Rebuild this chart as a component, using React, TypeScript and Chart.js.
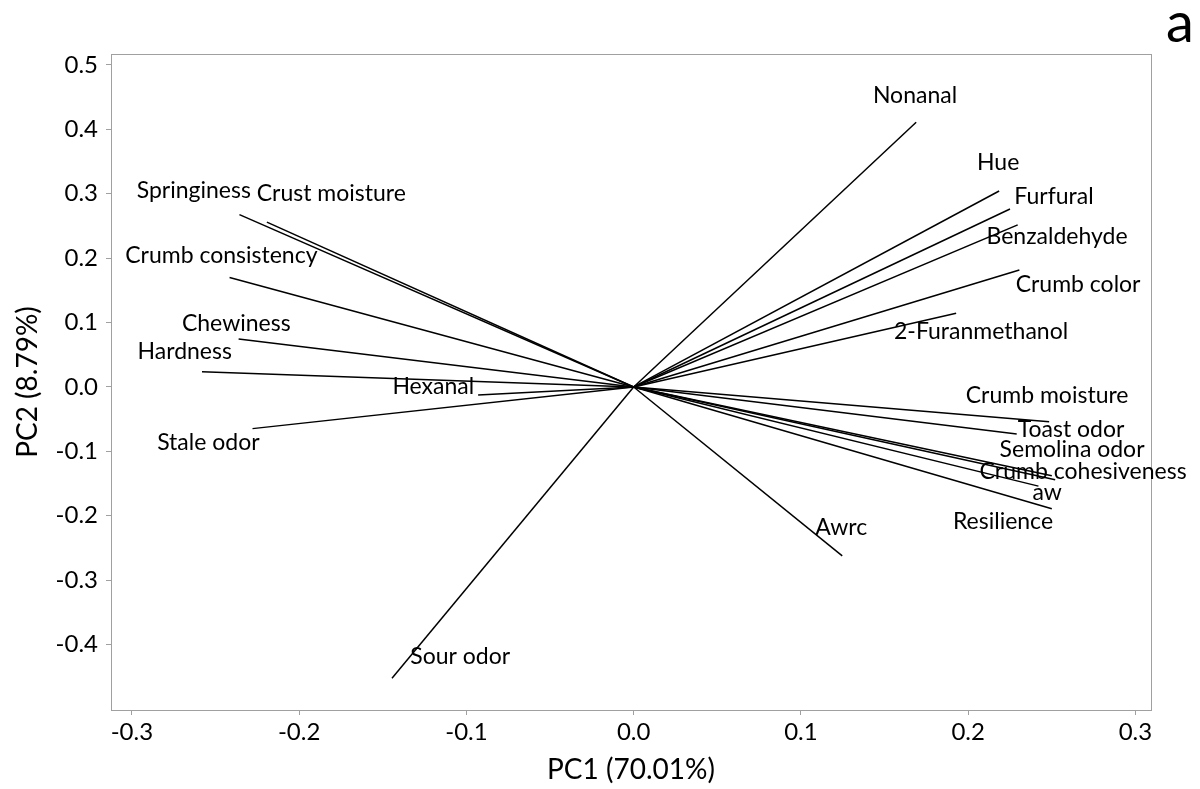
import React, { useEffect, useRef } from "react";
import { Chart, registerables } from "chart.js";

Chart.register(...registerables);

const variableNames = [
  "Springiness", "Crust moisture", "Crumb consistency", "Chewiness", "Hardness",
  "Hexanal", "Stale odor", "Sour odor", "Nonanal", "Hue", "Furfural",
  "Benzaldehyde", "Crumb color", "2-Furanmethanol", "Crumb moisture",
  "Toast odor", "Semolina odor", "Crumb cohesiveness", "aw", "Resilience", "Awrc",
];

const pc1Loadings = [
  -0.2357, -0.2193, -0.2416, -0.2362, -0.2581,
  -0.0930, -0.2279, -0.1445, 0.1689, 0.2185, 0.2250,
  0.2296, 0.2306, 0.1928, 0.2484,
  0.2290, 0.2500, 0.2520, 0.2420, 0.2500, 0.1247,
];

const pc2Loadings = [
  0.2675, 0.2560, 0.1700, 0.0745, 0.0238,
  -0.0124, -0.0647, -0.4523, 0.4110, 0.3043, 0.2764,
  0.2516, 0.1817, 0.1144, -0.0539,
  -0.0730, -0.1380, -0.1440, -0.1540, -0.1890, -0.2624,
];

// label anchor positions (data units)
const labelPc1 = [
  -0.2630, -0.1808, -0.2465, -0.2376, -0.2684,
  -0.1198, -0.2543, -0.1037, 0.1682, 0.2179, 0.2513,
  0.2531, 0.2657, 0.2077, 0.2472,
  0.2615, 0.2621, 0.2687, 0.2472, 0.2208, 0.1241,
];
const labelPc2 = [
  0.3050, 0.2997, 0.2043, 0.0978, 0.0543,
  0.0000, -0.0870, -0.4193, 0.4519, 0.3478, 0.2950,
  0.2329, 0.1584, 0.0854, -0.0140,
  -0.0668, -0.0979, -0.1320, -0.1646, -0.2096, -0.2189,
];

const xTickValues = [-0.3, -0.2, -0.1, 0.0, 0.1, 0.2, 0.3];
const yTickValues = [-0.4, -0.3, -0.2, -0.1, 0.0, 0.1, 0.2, 0.3, 0.4, 0.5];
const xTitle = "PC1 (70.01%)";
const yTitle = "PC2 (8.79%)";
const panelLetter = "a";

const FONT = "Lato, 'Open Sans', sans-serif";

const labelPlugin = {
  id: "biplotLabels",
  afterDatasetsDraw(chart: any) {
    const { ctx, chartArea, scales } = chart;
    const xs = scales.x;
    const ys = scales.y;
    ctx.save();
    ctx.strokeStyle = "#a0a0a0";
    ctx.lineWidth = 1;
    ctx.strokeRect(
      Math.round(chartArea.left) + 0.5,
      Math.round(chartArea.top) + 0.5,
      Math.round(chartArea.right - chartArea.left),
      Math.round(chartArea.bottom - chartArea.top)
    );
    ctx.fillStyle = "#000";
    ctx.font = `23px ${FONT}`;
    ctx.textAlign = "center";
    ctx.textBaseline = "middle";
    variableNames.forEach((n, i) => {
      ctx.fillText(n, xs.getPixelForValue(labelPc1[i]), ys.getPixelForValue(labelPc2[i]));
    });
    ctx.font = `56px ${FONT}`;
    ctx.fillText(panelLetter, 1180, 24);
    ctx.restore();
  },
};

export default function App() {
  const canvasRef = useRef<HTMLCanvasElement | null>(null);

  useEffect(() => {
    if (!canvasRef.current) return;
    const datasets = variableNames.map((n, i) => ({
      label: n,
      data: [
        { x: 0, y: 0 },
        { x: pc1Loadings[i], y: pc2Loadings[i] },
      ],
      showLine: true,
      borderColor: "#000",
      borderWidth: 1.5,
      pointRadius: 0,
      fill: false,
    }));
    const chart = new Chart(canvasRef.current, {
      type: "scatter",
      data: { datasets },
      plugins: [labelPlugin],
      options: {
        animation: false,
        responsive: false,
        events: [],
        layout: { padding: { top: 54, right: 49, bottom: 0, left: 0 } },
        plugins: { legend: { display: false }, tooltip: { enabled: false } },
        scales: {
          x: {
            type: "linear",
            min: -0.3125,
            max: 0.3093,
            afterFit: (s: any) => { s.height = 79; },
            afterBuildTicks: (s: any) => { s.ticks = xTickValues.map((v) => ({ value: v })); },
            ticks: {
              color: "#000",
              font: { family: FONT, size: 24 },
              padding: 3,
              maxRotation: 0,
              callback: (v: any) => Number(v).toFixed(1),
            },
            grid: { drawOnChartArea: false, drawTicks: true, tickLength: 5, color: "#a0a0a0" },
            border: { display: false },
            title: {
              display: true,
              text: xTitle,
              color: "#000",
              font: { family: FONT, size: 28 },
              padding: { top: 0, bottom: 2 },
            },
          },
          y: {
            type: "linear",
            min: -0.5016,
            max: 0.517,
            afterFit: (s: any) => { s.width = 111; },
            afterBuildTicks: (s: any) => { s.ticks = yTickValues.map((v) => ({ value: v })); },
            ticks: {
              color: "#000",
              font: { family: FONT, size: 24 },
              padding: 8,
              callback: (v: any) => Number(v).toFixed(1),
            },
            grid: { drawOnChartArea: false, drawTicks: true, tickLength: 5, color: "#a0a0a0" },
            border: { display: false },
            title: {
              display: true,
              text: yTitle,
              color: "#000",
              font: { family: FONT, size: 28 },
              padding: { top: 11, bottom: 0 },
            },
          },
        },
      },
    });
    return () => chart.destroy();
  }, []);

  return (
    <div style={{ position: "absolute", left: 0, top: 0, width: 1200, height: 789, background: "#fff" }}>
      <canvas ref={canvasRef} width={1200} height={789} style={{ display: "block" }} />
    </div>
  );
}
